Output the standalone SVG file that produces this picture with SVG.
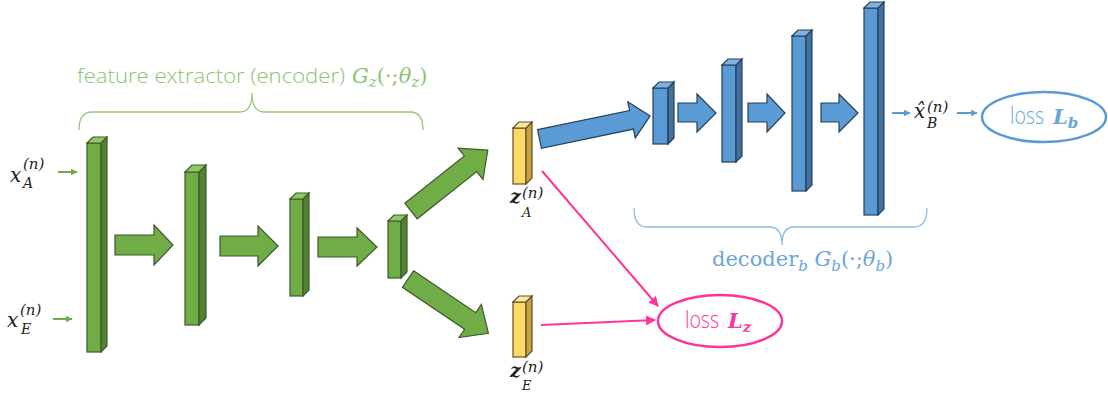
<svg xmlns="http://www.w3.org/2000/svg" width="1108" height="396" viewBox="0 0 1108 396">
<style>
  .bg{fill:#ffffff}
  .g-front{fill:#70ad47;stroke:#3d5a2a;stroke-width:1.2}
  .g-side{fill:#548235;stroke:#3d5a2a;stroke-width:1.2}
  .g-top{fill:#8fc865;stroke:#3d5a2a;stroke-width:1.2}
  .y-front{fill:#ffd966;stroke:#5a5030;stroke-width:1.2}
  .y-side{fill:#c9a43c;stroke:#5a5030;stroke-width:1.2}
  .y-top{fill:#ffe699;stroke:#5a5030;stroke-width:1.2}
  .b-front{fill:#5b9bd5;stroke:#24405c;stroke-width:1.2}
  .b-side{fill:#41719c;stroke:#24405c;stroke-width:1.2}
  .b-top{fill:#7fb2e3;stroke:#24405c;stroke-width:1.2}
  .g-arrow{fill:#70ad47;stroke:#3d5a2a;stroke-width:1.2;stroke-linejoin:miter}
  .b-arrow{fill:#5b9bd5;stroke:#24405c;stroke-width:1.2}
  .pink{stroke:#ff3399;stroke-width:2;fill:none}
  .gline{stroke:#70ad47;stroke-width:2;fill:none}
  .bline{stroke:#5b9bd5;stroke-width:2;fill:none}
  .brace-g{stroke:#9cc87e;stroke-width:1.3;fill:none}
  .brace-b{stroke:#8fbde6;stroke-width:1.3;fill:none}
  .math{font-family:"DejaVu Serif","Liberation Serif",serif;font-style:italic;fill:#222}
  .sans{font-family:"Open Sans","Noto Sans","Liberation Sans",sans-serif;font-weight:300}
  .serif{font-family:"DejaVu Serif","Liberation Serif",serif}
</style>
<defs>
  <marker id="ah-g" viewBox="0 0 10 10" refX="9" refY="5" markerWidth="7" markerHeight="7" markerUnits="userSpaceOnUse" orient="auto"><path d="M0,0 L10,5 L0,10 z" fill="#70ad47"/></marker>
  <marker id="ah-b" viewBox="0 0 10 10" refX="9" refY="5" markerWidth="7" markerHeight="7" markerUnits="userSpaceOnUse" orient="auto"><path d="M0,0 L10,5 L0,10 z" fill="#5b9bd5"/></marker>
  <marker id="ah-p" viewBox="0 0 10 10" refX="9" refY="5" markerWidth="10" markerHeight="10" markerUnits="userSpaceOnUse" orient="auto"><path d="M0,0 L10,5 L0,10 z" fill="#ff3399"/></marker>
</defs>
<rect class="bg" x="0" y="0" width="1108" height="396"/>

<!-- encoder title + brace -->
<g id="encoder-label">
  <path class="brace-g" d="M79,130 Q79,112 92,112 H240 Q252,112 252,93 Q252,112 264,112 H410 Q423,112 423,130"/>
  <text x="77" y="83" class="sans" font-size="21" fill="#8dc26f" textLength="268" lengthAdjust="spacingAndGlyphs">feature extractor (encoder)</text>
  <text x="352" y="83" class="serif" font-size="21" fill="#8dc26f"><tspan font-style="italic">G</tspan><tspan font-style="italic" font-size="15" dy="4">z</tspan><tspan dy="-4">(·;</tspan><tspan font-style="italic">θ</tspan><tspan font-style="italic" font-size="15" dy="4">z</tspan><tspan dy="-4">)</tspan></text>
</g>

<!-- decoder brace + label -->
<g id="decoder-label">
  <path class="brace-b" d="M634,208 Q634,227 647,227 H770 Q782,227 782,245 Q782,227 794,227 H914 Q927,227 927,208"/>
  <text x="712" y="266" class="serif" font-size="21" fill="#6aa5dc">decoder<tspan font-style="italic" font-size="15" dy="5">b</tspan><tspan dy="-5"> </tspan><tspan font-style="italic">G</tspan><tspan font-style="italic" font-size="15" dy="5">b</tspan><tspan dy="-5">(·;</tspan><tspan font-style="italic">θ</tspan><tspan font-style="italic" font-size="15" dy="5">b</tspan><tspan dy="-5">)</tspan></text>
</g>

<!-- inputs -->
<g id="input-xA">
  <text class="math" x="10" y="182" font-size="20">x</text>
  <text class="math" x="23" y="169" font-size="15" font-style="normal">(<tspan font-style="italic">n</tspan>)</text>
  <text class="math" x="23" y="188" font-size="14">A</text>
</g>
<g id="input-xE">
  <text class="math" x="7" y="327" font-size="20">x</text>
  <text class="math" x="20" y="315" font-size="15" font-style="normal">(<tspan font-style="italic">n</tspan>)</text>
  <text class="math" x="21" y="334" font-size="14">E</text>
</g>

<!-- encoder bars -->
<g id="enc1">
  <rect class="g-front" x="87" y="143" width="14" height="209"/>
  <polygon class="g-side" points="101,143 107,137 107,346 101,352"/>
  <polygon class="g-top" points="87,143 93,137 107,137 101,143"/>
</g>
<g id="enc2">
  <rect class="g-front" x="185" y="172" width="14" height="153"/>
  <polygon class="g-side" points="199,172 206,165 206,318 199,325"/>
  <polygon class="g-top" points="185,172 192,165 206,165 199,172"/>
</g>
<g id="enc3">
  <rect class="g-front" x="290" y="199" width="13" height="97"/>
  <polygon class="g-side" points="303,199 309,193 309,290 303,296"/>
  <polygon class="g-top" points="290,199 296,193 309,193 303,199"/>
</g>
<g id="enc4">
  <rect class="g-front" x="388" y="221" width="13" height="57"/>
  <polygon class="g-side" points="401,221 407,215 407,272 401,278"/>
  <polygon class="g-top" points="388,221 394,215 407,215 401,221"/>
</g>

<!-- latent codes -->
<g id="zA">
  <rect class="y-front" x="513" y="128" width="13" height="56"/>
  <polygon class="y-side" points="526,128 532,122 532,178 526,184"/>
  <polygon class="y-top" points="513,128 519,122 532,122 526,128"/>
  <text class="math" x="510" y="203" font-size="19" font-weight="bold">z</text>
  <text class="math" x="522" y="198" font-size="15" font-style="normal">(<tspan font-style="italic">n</tspan>)</text>
  <text class="math" x="522" y="217" font-size="13">A</text>
</g>
<g id="zE">
  <rect class="y-front" x="513" y="302" width="13" height="55"/>
  <polygon class="y-side" points="526,302 532,296 532,351 526,357"/>
  <polygon class="y-top" points="513,302 519,296 532,296 526,302"/>
  <text class="math" x="510" y="377" font-size="19" font-weight="bold">z</text>
  <text class="math" x="522" y="372" font-size="15" font-style="normal">(<tspan font-style="italic">n</tspan>)</text>
  <text class="math" x="522" y="390" font-size="13">E</text>
</g>

<!-- decoder bars -->
<g id="dec1">
  <rect class="b-front" x="653" y="88" width="15" height="56"/>
  <polygon class="b-side" points="668,88 674,82 674,138 668,144"/>
  <polygon class="b-top" points="653,88 659,82 674,82 668,88"/>
</g>
<g id="dec2">
  <rect class="b-front" x="722" y="65" width="14" height="97"/>
  <polygon class="b-side" points="736,65 742,59 742,156 736,162"/>
  <polygon class="b-top" points="722,65 728,59 742,59 736,65"/>
</g>
<g id="dec3">
  <rect class="b-front" x="792" y="36" width="14" height="155"/>
  <polygon class="b-side" points="806,36 812,30 812,185 806,191"/>
  <polygon class="b-top" points="792,36 798,30 812,30 806,36"/>
</g>
<g id="dec4">
  <rect class="b-front" x="864" y="8" width="14" height="207"/>
  <polygon class="b-side" points="878,8 884,2 884,209 878,215"/>
  <polygon class="b-top" points="864,8 870,2 884,2 878,8"/>
</g>

<!-- output -->
<g id="xB-hat">
  <text class="math" x="914" y="118" font-size="20">x̂</text>
  <text class="math" x="927" y="112" font-size="15" font-style="normal">(<tspan font-style="italic">n</tspan>)</text>
  <text class="math" x="927" y="128" font-size="14">B</text>
</g>

<!-- losses -->
<g id="loss-b">
  <ellipse cx="1044" cy="117" rx="62" ry="25" fill="none" stroke="#5b9bd5" stroke-width="2.5"/>
  <text x="1010" y="124" class="sans" font-size="24" fill="#6aa5dc" textLength="34" lengthAdjust="spacingAndGlyphs">loss</text>
  <text x="1053" y="124" class="serif" font-size="21" font-weight="bold" font-style="italic" fill="#6aa5dc">L<tspan font-size="15" dy="4">b</tspan></text>
</g>
<g id="loss-z">
  <ellipse cx="720" cy="321" rx="62" ry="26" fill="none" stroke="#ff3399" stroke-width="2.5"/>
  <text x="685" y="328" class="sans" font-size="24" fill="#ff3399" textLength="34" lengthAdjust="spacingAndGlyphs">loss</text>
  <text x="728" y="328" class="serif" font-size="21" font-weight="bold" font-style="italic" fill="#ff3399">L<tspan font-size="15" dy="4">z</tspan></text>
</g>

<!-- connectors -->
<g id="connectors">
  <line class="gline" x1="58" y1="172" x2="77" y2="172" marker-end="url(#ah-g)"/>
  <line class="gline" x1="53" y1="319" x2="72" y2="319" marker-end="url(#ah-g)"/>
  <polygon class="g-arrow" points="115,235 154,235 154,225 173,245 154,265 154,255 115,255"/>
  <polygon class="g-arrow" points="220,236 258,236 258,226 278,246 258,266 258,256 220,256"/>
  <polygon class="g-arrow" points="318,237 357,237 357,228 377,247 357,266 357,257 318,257"/>
  <polygon class="g-arrow" transform="translate(411,211) rotate(-38.4)" points="0,-10 76,-10 76,-20 98,0 76,20 76,10 0,10"/>
  <polygon class="g-arrow" transform="translate(408,279) rotate(34)" points="0,-10 75,-10 75,-20 97,0 75,20 75,10 0,10"/>
  <polygon class="b-arrow" transform="translate(539.5,139) rotate(-11.8)" points="0,-9.5 94,-9.5 94,-18.5 113,0 94,18.5 94,9.5 0,9.5"/>
  <polygon class="b-arrow" points="678,103 697,103 697,94 716,113 697,132 697,122 678,122"/>
  <polygon class="b-arrow" points="748,103 767,103 767,94 785,113 767,132 767,122 748,122"/>
  <polygon class="b-arrow" points="821,103 839,103 839,94 858,113 839,132 839,122 821,122"/>
  <line class="bline" x1="892" y1="113" x2="910" y2="113" marker-end="url(#ah-b)"/>
  <line class="bline" x1="957" y1="113" x2="977" y2="113" marker-end="url(#ah-b)"/>
  <line class="pink" x1="542" y1="171" x2="658" y2="306" marker-end="url(#ah-p)"/>
  <line class="pink" x1="541" y1="325" x2="655" y2="320" marker-end="url(#ah-p)"/>
</g>
</svg>
